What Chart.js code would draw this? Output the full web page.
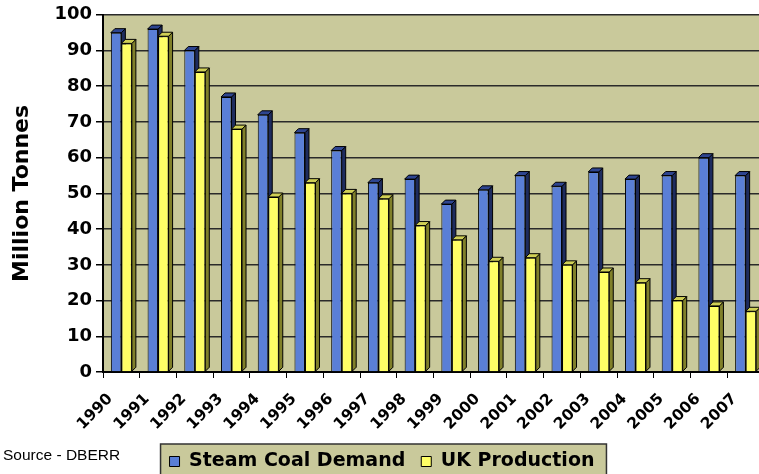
<!DOCTYPE html>
<html><head><meta charset="utf-8">
<script src="https://cdn.jsdelivr.net/npm/chart.js@4/dist/chart.umd.min.js"></script>
<style>
html,body{margin:0;padding:0;background:#fff;overflow:hidden;width:759px;height:474px;}
#wrap{position:absolute;left:0;top:0;width:766px;height:481px;}
#src{position:absolute;left:3px;top:446px;font:15.5px "Liberation Sans",Arial,sans-serif;color:#000;white-space:nowrap;}
</style></head><body>
<div id="wrap"><canvas id="c" width="766" height="481"></canvas></div>
<div id="src">Source - DBERR</div>
<script>
const years = ['1990','1991','1992','1993','1994','1995','1996','1997','1998','1999','2000','2001','2002','2003','2004','2005','2006','2007'];
const steamCoalDemand = [95,96,90,77,72,67,62,53,54,47,51,55,52,56,54,55,60,55];
const ukProduction = [92,94,84,68,49,53,50,48.5,41,37,31,32,30,28,25,20,18.5,17];
const seriesNames = ['Steam Coal Demand','UK Production'];
const yMin = 0, yMax = 100, yStep = 10;

const frontColors = ['#5A7FD6','#FFFF66'];
const sideColors = ['#1E2C5E','#80802A'];
const topColors = ['#2E4590','#D0D055'];
const depth = 4;
const bold = 'DejaVu Sans';

const bar3d = {
  id: 'bar3d',
  beforeDraw(chart) {
    const {ctx, chartArea: a} = chart;
    ctx.save();
    ctx.fillStyle = '#C9C99B';
    ctx.fillRect(a.left, a.top, a.right - a.left, a.bottom - a.top);
    const lg = chart.legend;
    if (lg && lg.legendHitBoxes && lg.legendHitBoxes.length) {
      const hb = lg.legendHitBoxes;
      const l = hb[0].left - 9;
      const last = hb[hb.length - 1];
      const r = last.left + last.width + 12;
      const t = hb[0].top - 8;
      ctx.fillStyle = '#C9C99B';
      ctx.fillRect(l, t, r - l, 60);
      ctx.strokeStyle = '#333';
      ctx.lineWidth = 1.5;
      ctx.strokeRect(l, t, r - l, 60);
    }
    ctx.restore();
  },
  beforeDatasetsDraw(chart) {
    const ctx = chart.ctx;
    const d = depth;
    ctx.save();
    chart.data.datasets.forEach((ds, di) => {
      const meta = chart.getDatasetMeta(di);
      meta.data.forEach(bar => {
        const {x, y, base, width} = bar.getProps(['x', 'y', 'base', 'width'], true);
        const l = x - width / 2, r = x + width / 2;
        ctx.lineWidth = 1;
        ctx.strokeStyle = '#000';
        ctx.beginPath();
        ctx.moveTo(r, y); ctx.lineTo(r + d, y - d); ctx.lineTo(r + d, base - d); ctx.lineTo(r, base); ctx.closePath();
        ctx.fillStyle = sideColors[di]; ctx.fill(); ctx.stroke();
        ctx.beginPath();
        ctx.moveTo(l, y); ctx.lineTo(l + d, y - d); ctx.lineTo(r + d, y - d); ctx.lineTo(r, y); ctx.closePath();
        ctx.fillStyle = topColors[di]; ctx.fill(); ctx.stroke();
      });
    });
    ctx.restore();
  }
};

new Chart(document.getElementById('c'), {
  type: 'bar',
  data: {
    labels: years,
    datasets: [
      {label: seriesNames[0], data: steamCoalDemand, backgroundColor: frontColors[0], borderColor: '#000', borderWidth: 1},
      {label: seriesNames[1], data: ukProduction, backgroundColor: frontColors[1], borderColor: '#000', borderWidth: 1}
    ]
  },
  options: {
    responsive: false,
    animation: false,
    layout: {padding: {top: 13, right: 2, left: 0, bottom: 0}},
    datasets: {bar: {categoryPercentage: 0.572, barPercentage: 1.0}},
    plugins: {
      tooltip: {enabled: false},
      legend: {
        position: 'bottom',
        labels: {
          font: {family: bold, weight: 'bold', size: 19},
          color: '#000', boxWidth: 10, boxHeight: 10, padding: 16
        }
      }
    },
    scales: {
      x: {
        ticks: {
          font: {family: bold, weight: 'bold', size: 15.5},
          color: '#000', maxRotation: 45, minRotation: 45, labelOffset: -11, padding: 12, autoSkip: false
        },
        grid: {display: true, drawOnChartArea: false, tickLength: 6, color: '#000', offset: true},
        border: {color: '#000', width: 2},
        afterFit(s) { s.height = 64; s.paddingLeft = 0; s.paddingRight = 0; }
      },
      y: {
        min: yMin, max: yMax,
        ticks: {stepSize: yStep, font: {family: bold, weight: 'bold', size: 18}, color: '#000', padding: 4},
        grid: {color: '#2a2a2a', lineWidth: 1.5, tickLength: 7, tickColor: '#000'},
        border: {color: '#000', width: 2},
        title: {display: true, text: 'Million Tonnes', font: {family: bold, weight: 'bold', size: 22}, color: '#000', padding: {top: 9, bottom: 0}},
        afterFit(s) { s.width = 103; }
      }
    }
  },
  plugins: [bar3d]
});
</script>
</body></html>
